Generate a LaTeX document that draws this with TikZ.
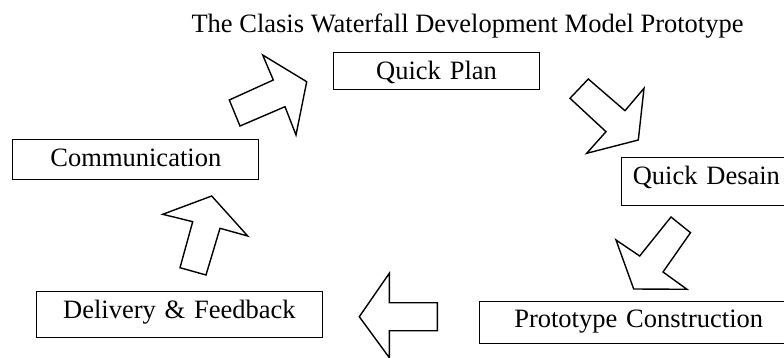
\documentclass[tikz,border=0pt]{standalone}
\usepackage{fontspec}
\setmainfont{Liberation Serif}
\usepackage{tikz}
\newcommand{\labelfont}{\fontsize{26.5}{30}\selectfont}
% #1 name, #2/#3 top left corner, #4 width, #5 depth below the baseline, #6 text
\newcommand{\stagebox}[6]{%
  \node[stage,text width=#4pt,text depth=#5pt] (#1) at (#2,#3) {#6};}
\tikzset{
  stage/.style={draw,line width=1.1pt,anchor=north west,inner sep=0pt,
    text height=26.5pt,align=center,font=\labelfont},
  blockarrow/.style={draw,line width=1.4pt,fill=white,line join=miter}
}

\begin{document}
\begin{tikzpicture}[x=1pt,y=-1pt]
  \useasboundingbox (0,0) rectangle (784,358);
  \clip (0,0) rectangle (784,358);
  \node[anchor=base west,font=\labelfont] (title) at (188,33)
    {The Clasis Waterfall Development Model Prototype};
  \stagebox{plan}{333}{52.3}{206}{10.2}{Quick Plan}
  \stagebox{desain}{620.7}{157.3}{170.3}{21.2}{Quick Desain}
  \stagebox{build}{479.3}{300.7}{317.7}{15.5}{Prototype Construction}
  \stagebox{deliver}{36}{291}{285.7}{19.2}{Delivery \& Feedback}
  \stagebox{comm}{12.3}{139}{246}{13.5}{Communication}
  % block arrows going round the cycle
  \draw[blockarrow] (262.7,55) -- (306.7,81.7) -- (296,135) -- (285,106.7)
    -- (240,126) -- (229.3,100) -- (273.3,80) -- cycle;
  \draw[blockarrow] (588.3,79) -- (625,110.7) -- (644,88.3) -- (638.3,140)
    -- (586.7,153.3) -- (606,131.7) -- (570,98.3) -- cycle;
  \draw[blockarrow] (671,217) -- (690.5,232.7) -- (663,272) -- (687,289.3)
    -- (633.7,289) -- (616,240) -- (639.7,256) -- cycle;
  \draw[blockarrow] (359.3,316.7) -- (389.3,273.3) -- (389.3,302.7)
    -- (437.3,302.7) -- (437.3,330.7) -- (389.3,330.7) -- (389.3,357.7) -- cycle;
  \draw[blockarrow] (211.7,196) -- (247.7,236) -- (220,228.3) -- (206,275)
    -- (180,267.7) -- (192.7,221.7) -- (162.7,214.3) -- cycle;
\end{tikzpicture}
\end{document}
